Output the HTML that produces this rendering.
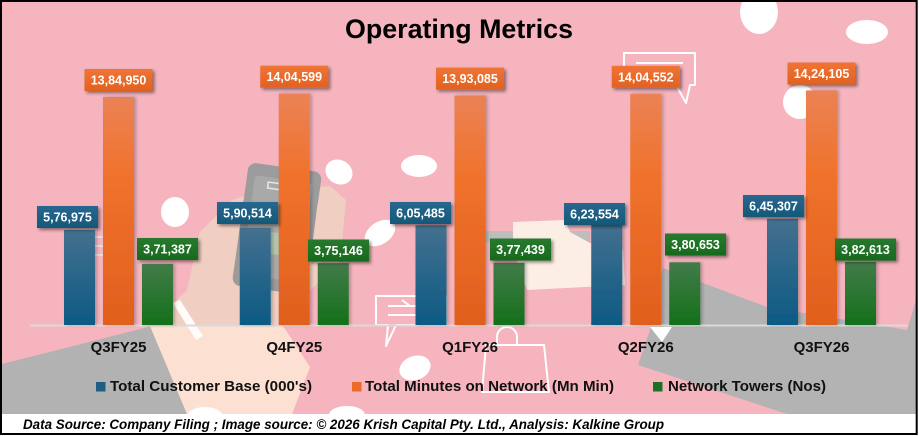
<!DOCTYPE html>
<html><head><meta charset="utf-8"><style>
html,body{margin:0;padding:0;background:#fff;}
svg{display:block;}
text{font-family:"Liberation Sans",Arial,sans-serif;}
</style></head><body>
<svg width="919" height="436" viewBox="0 0 919 436" xmlns="http://www.w3.org/2000/svg">
<defs>
<linearGradient id="gb" x1="0" y1="0" x2="0" y2="1"><stop offset="0" stop-color="#44708F"/><stop offset="1" stop-color="#0C5A84"/></linearGradient>
<linearGradient id="go" x1="0" y1="0" x2="0" y2="1"><stop offset="0" stop-color="#EB8255"/><stop offset="0.35" stop-color="#F0722C"/><stop offset="1" stop-color="#E05F1D"/></linearGradient>
<linearGradient id="gg" x1="0" y1="0" x2="0" y2="1"><stop offset="0" stop-color="#427B49"/><stop offset="1" stop-color="#14701A"/></linearGradient>
<linearGradient id="lb" x1="0" y1="0" x2="0" y2="1"><stop offset="0" stop-color="#286790"/><stop offset="1" stop-color="#155878"/></linearGradient>
<linearGradient id="lo" x1="0" y1="0" x2="0" y2="1"><stop offset="0" stop-color="#EF7436"/><stop offset="1" stop-color="#E2611F"/></linearGradient>
<linearGradient id="lg" x1="0" y1="0" x2="0" y2="1"><stop offset="0" stop-color="#28792E"/><stop offset="1" stop-color="#166A1C"/></linearGradient>
<filter id="sh" x="-20%" y="-20%" width="150%" height="160%"><feDropShadow dx="2" dy="2" stdDeviation="1.5" flood-color="#000" flood-opacity="0.45"/></filter>
<filter id="bs" x="-20%" y="-5%" width="150%" height="115%"><feDropShadow dx="2" dy="0" stdDeviation="1.5" flood-color="#000" flood-opacity="0.25"/></filter>
</defs>

<!-- background -->
<rect x="0" y="0" width="919" height="436" fill="#fff"/>
<rect x="2" y="2" width="914" height="412" fill="#F6B4BE"/>

<!-- left grey -->
<polygon points="2,364 152,326 187,414 2,414" fill="#B2B2B2"/>
<!-- peach arm/hand -->
<polygon points="150,326 187,290 200,232 232,200 255,193 330,186 346,200 340,262 300,300 283,326 310,367 292,414 187,414" fill="#F0CFC2"/>
<polygon points="150,326 283,326 310,367 292,414 187,414" fill="#FCE0D2"/>
<!-- phone -->
<g transform="rotate(8 272 228)">
<rect x="240" y="166" width="74" height="124" rx="8" fill="#9C9C9C"/>
<rect x="248" y="178" width="58" height="100" rx="3" fill="#A9A9A9"/>
<rect x="258" y="232" width="40" height="22" fill="#B5C4AE"/>
<rect x="262" y="183" width="30" height="6" fill="none" stroke="#E8E8E8" stroke-width="1.5"/>
</g>
<ellipse cx="326" cy="222" rx="10" ry="32" fill="#F0CFC2"/>
<!-- cuff stripe -->
<polygon points="173,303 180,300 203,336 196,340" fill="#fff" opacity="0.9"/>

<!-- right second hand -->
<rect x="470" y="231" width="120" height="11" fill="#BDBDBD"/>
<polygon points="513,222 565,220 570,232 590,243 623,250 625,285 527,290 513,250" fill="#FCEEE4"/>

<!-- right grey -->
<polygon points="663,268 767,307 907,330 916,300 916,414 787,414 638,365 650,330" fill="#B3B3B3"/>
<polygon points="650,327 672,327 662,342" fill="#fff"/>

<!-- white ellipses -->
<g fill="#fff">
<ellipse cx="175" cy="212" rx="14" ry="15"/>
<ellipse cx="339" cy="172" rx="14" ry="12" transform="rotate(30 339 172)"/>
<ellipse cx="419" cy="166" rx="18" ry="11"/>
<ellipse cx="380" cy="233" rx="17" ry="11" transform="rotate(-35 380 233)"/>
<ellipse cx="759" cy="12" rx="19" ry="22"/>
<ellipse cx="867" cy="32" rx="21" ry="12"/>
<ellipse cx="800" cy="102" rx="17" ry="17"/>
<ellipse cx="415" cy="368" rx="16" ry="12" transform="rotate(-20 415 368)"/>
<ellipse cx="347" cy="415" rx="18" ry="9"/>
<ellipse cx="205" cy="417" rx="18" ry="10"/>
</g>

<!-- line icons -->
<g fill="none" stroke="#fff" stroke-width="2" stroke-linejoin="round">
<path d="M624,53 H695 V85 H690 L686,103 L676,85 H624 Z"/>
<path d="M636,63 H683 M636,72 H670"/>
<path d="M376,296 H446 V325 H396 L386,346 L388,325 H376 Z"/>
<path d="M388,306 H420 M388,315 H432 M402,300 L410,306"/>
<path d="M486,345 H544 L549,392 H482 Z"/>
<path d="M497,345 V337 A10,10 0 0 1 517,337 V345"/>
</g>
<g stroke="#E6E6E6" stroke-width="2" opacity="0.8">
<path d="M92,237 H104 M92,246 H104 M92,255 H104"/>
</g>

<!-- axis -->
<line x1="30" y1="325.5" x2="908" y2="325.5" stroke="#DADADA" stroke-width="2"/>

<!-- bars -->
<g filter="url(#bs)">
<rect x="64" y="230" width="31" height="95" fill="url(#gb)"/>
<rect x="239.75" y="227.8" width="31" height="97.2" fill="url(#gb)"/>
<rect x="415.5" y="225.3" width="31" height="99.7" fill="url(#gb)"/>
<rect x="591.25" y="222.3" width="31" height="102.7" fill="url(#gb)"/>
<rect x="767" y="218.8" width="31" height="106.2" fill="url(#gb)"/>

<rect x="103" y="97" width="31" height="228" fill="url(#go)"/>
<rect x="278.75" y="93.7" width="31" height="231.3" fill="url(#go)"/>
<rect x="454.5" y="95.6" width="31" height="229.4" fill="url(#go)"/>
<rect x="630.25" y="93.8" width="31" height="231.2" fill="url(#go)"/>
<rect x="806" y="90.5" width="31" height="234.5" fill="url(#go)"/>

<rect x="142" y="263.9" width="31" height="61.1" fill="url(#gg)"/>
<rect x="317.75" y="263.2" width="31" height="61.8" fill="url(#gg)"/>
<rect x="493.5" y="262.9" width="31" height="62.1" fill="url(#gg)"/>
<rect x="669.25" y="262.3" width="31" height="62.7" fill="url(#gg)"/>
<rect x="845" y="262" width="31" height="63" fill="url(#gg)"/>
</g>

<!-- label boxes -->
<g filter="url(#sh)">
<rect x="84.5" y="69" width="68" height="22" fill="url(#lo)"/>
<rect x="260.25" y="65.7" width="68" height="22" fill="url(#lo)"/>
<rect x="436" y="67.6" width="68" height="22" fill="url(#lo)"/>
<rect x="611.75" y="65.8" width="68" height="22" fill="url(#lo)"/>
<rect x="787.5" y="62.5" width="68" height="22" fill="url(#lo)"/>

<rect x="37" y="206" width="61" height="22" fill="url(#lb)"/>
<rect x="217" y="202" width="61" height="22" fill="url(#lb)"/>
<rect x="390" y="202" width="61" height="22" fill="url(#lb)"/>
<rect x="564" y="203" width="61" height="22" fill="url(#lb)"/>
<rect x="743" y="195" width="61" height="22" fill="url(#lb)"/>

<rect x="137" y="238" width="61" height="22" fill="url(#lg)"/>
<rect x="308" y="239.5" width="61" height="22" fill="url(#lg)"/>
<rect x="490" y="238.5" width="61" height="22" fill="url(#lg)"/>
<rect x="665" y="233.5" width="61" height="22" fill="url(#lg)"/>
<rect x="835" y="238.5" width="61" height="22" fill="url(#lg)"/>
</g>

<g font-size="12.5" font-weight="bold" fill="#fff" text-anchor="middle">
<text x="118.5" y="84.5">13,84,950</text>
<text x="294.25" y="81.2">14,04,599</text>
<text x="470" y="83.1">13,93,085</text>
<text x="645.75" y="81.3">14,04,552</text>
<text x="821.5" y="78">14,24,105</text>

<text x="67.5" y="221.5">5,76,975</text>
<text x="247.5" y="217.5">5,90,514</text>
<text x="420.5" y="217.5">6,05,485</text>
<text x="594.5" y="218.5">6,23,554</text>
<text x="773.5" y="210.5">6,45,307</text>

<text x="167.5" y="253.5">3,71,387</text>
<text x="338.5" y="255">3,75,146</text>
<text x="520.5" y="254">3,77,439</text>
<text x="695.5" y="249">3,80,653</text>
<text x="865.5" y="254">3,82,613</text>
</g>

<!-- title -->
<text x="459" y="38" font-size="27" font-weight="bold" fill="#000" text-anchor="middle" textLength="228" lengthAdjust="spacingAndGlyphs">Operating Metrics</text>

<!-- categories -->
<g font-size="15" font-weight="bold" fill="#111" text-anchor="middle">
<text x="118.5" y="352">Q3FY25</text>
<text x="294.25" y="352">Q4FY25</text>
<text x="470" y="352">Q1FY26</text>
<text x="645.75" y="352">Q2FY26</text>
<text x="821.5" y="352">Q3FY26</text>
</g>

<!-- legend -->
<rect x="96" y="382" width="9.5" height="9.5" fill="#1F5E82"/>
<rect x="352" y="382" width="9.5" height="9.5" fill="#EB6A28"/>
<rect x="653" y="382" width="9.5" height="9.5" fill="#1D7025"/>
<g font-size="15" font-weight="bold" fill="#111">
<text x="110" y="391" textLength="202" lengthAdjust="spacingAndGlyphs">Total Customer Base (000's)</text>
<text x="365" y="391" textLength="249" lengthAdjust="spacingAndGlyphs">Total Minutes on Network (Mn Min)</text>
<text x="668" y="391" textLength="158" lengthAdjust="spacingAndGlyphs">Network Towers (Nos)</text>
</g>

<!-- footer -->
<rect x="2" y="414" width="914" height="19" fill="#fff"/>
<text x="23" y="429" font-size="14" font-weight="bold" font-style="italic" fill="#000" textLength="641" lengthAdjust="spacingAndGlyphs">Data Source: Company Filing ; Image source: © 2026 Krish Capital Pty. Ltd., Analysis: Kalkine Group</text>

<!-- border -->
<rect x="1" y="1" width="915.7" height="433" fill="none" stroke="#000" stroke-width="2"/>
</svg>
</body></html>
